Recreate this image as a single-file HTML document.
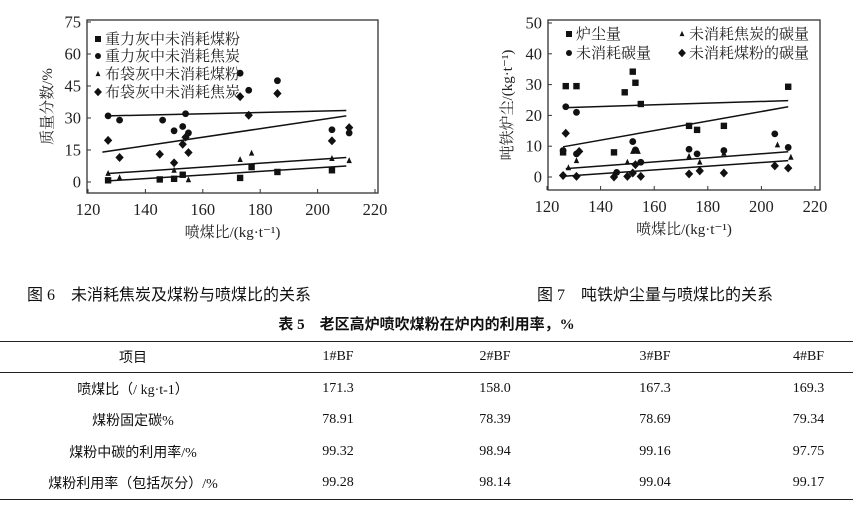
<!DOCTYPE html>
<html><head><meta charset="utf-8"><style>
body{margin:0;width:853px;height:510px;background:#fff;overflow:hidden;position:relative;font-family:"Liberation Serif","Noto Serif CJK SC",serif;color:#111}
svg{position:absolute;left:0;top:0}
.cap{position:absolute;font-size:16px;font-family:"Liberation Serif","Noto Sans CJK SC",sans-serif;white-space:nowrap;line-height:1}
table{position:absolute;left:0;top:341px;width:853px;border-collapse:collapse;table-layout:fixed;font-size:14px;font-family:"Liberation Serif","Noto Sans CJK SC",sans-serif}
td{text-align:center;height:31.5px;padding:0}
tr.h td{height:30px;border-bottom:1.5px solid #222}
td.l{padding-left:34px}
</style></head><body>
<svg width="853" height="340">
<g id="c1"></g>
<g id="c2"></g>
</svg>
<div class="cap" style="left:27px;top:288px">图 6　未消耗焦炭及煤粉与喷煤比的关系</div>
<div class="cap" style="left:537px;top:288px">图 7　吨铁炉尘量与喷煤比的关系</div>
<div class="cap" style="left:0;width:853px;text-align:center;top:318px;font-weight:bold;font-size:15px">表 5　老区高炉喷吹煤粉在炉内的利用率，%</div>
<table style="border-top:1.5px solid #222;border-bottom:1.5px solid #222">
<colgroup><col style="width:266px"><col style="width:144px"><col style="width:170px"><col style="width:150px"><col style="width:123px"></colgroup>
<tr class="h"><td>项目</td><td>1#BF</td><td>2#BF</td><td>3#BF</td><td class="l">4#BF</td></tr>
<tr><td>喷煤比（/ kg·t-1）</td><td>171.3</td><td>158.0</td><td>167.3</td><td class="l">169.3</td></tr>
<tr><td>煤粉固定碳%</td><td>78.91</td><td>78.39</td><td>78.69</td><td class="l">79.34</td></tr>
<tr><td>煤粉中碳的利用率/%</td><td>99.32</td><td>98.94</td><td>99.16</td><td class="l">97.75</td></tr>
<tr><td>煤粉利用率（包括灰分）/%</td><td>99.28</td><td>98.14</td><td>99.04</td><td class="l">99.17</td></tr>
</table>
<script>
// Chart 1 data
const c1SqX=[127,145,150,153,173,177,186,205];
const c1SqY=[0.8,1.2,1.5,3.4,1.9,7,4.7,5.5];
const c1CiX=[127,131,146,150,153,154,155,173,176,186,205,211];
const c1CiY=[31,29,29,24,26,32,23,51,43,47.5,24.5,23];
const c1TrX=[127,131,150,155,173,177,205,211];
const c1TrY=[4,2,5.5,1,10.5,13.5,11,10];
const c1DiX=[127,131,145,150,153,154,155,173,176,186,205,211];
const c1DiY=[19.5,11.5,13,9,17.7,21,13.8,40,31.3,41.5,19.3,25.5];
const c1Lines=[[127,31,210,33.5],[125,14,210,31],[127,4,210,11.5],[127,0.5,210,7.5]];
const c1XTicks=[120,140,160,180,200,220];
const c1YTicks=[0,15,30,45,60,75];
const c1Legend=["重力灰中未消耗煤粉","重力灰中未消耗焦炭","布袋灰中未消耗煤粉","布袋灰中未消耗焦炭"];
// Chart 2 data
const c2SqX=[126,127,131,145,149,152,153,155,173,176,186,210];
const c2SqY=[8,29.5,29.5,8,27.5,34.2,30.6,23.7,16.6,15.3,16.6,29.3];
const c2CiX=[126,127,131,131,146,152,153,155,173,176,186,205,210];
const c2CiY=[8.6,22.8,21,7.5,1.5,11.5,8.8,4.8,9,7.5,8.6,14,9.6];
const c2TrX=[128,131,150,152,154,173,177,186,206,211];
const c2TrY=[3,5.3,4.8,8.3,8.3,6.7,4.8,7.7,10.4,6.4];
const c2DiX=[126,127,131,132,145,150,152,153,155,173,177,186,205,210];
const c2DiY=[0.5,14.2,0.2,8.3,0,0.2,1.3,4,0.2,1,2,1.3,3.6,2.9];
const c2Lines=[[126,22.5,210,24.8],[126,9.8,210,22.8],[127,2.7,210,8.2],[127,0.3,210,5.3]];
const c2XTicks=[120,140,160,180,200,220];
const c2YTicks=[0,10,20,30,40,50];
const c2Legend=["炉尘量","未消耗碳量","未消耗焦炭的碳量","未消耗煤粉的碳量"];

const NS="http://www.w3.org/2000/svg";
function mk(p,t,a){const e=document.createElementNS(NS,t);for(const k in a)e.setAttribute(k,a[k]);p.appendChild(e);return e;}
function marker(g,kind,x,y,s){
  let e;
  if(kind==0)e=mk(g,'rect',{x:x-s,y:y-s,width:2*s,height:2*s,fill:'#111'});
  else if(kind==1)e=mk(g,'circle',{cx:x,cy:y,r:s,fill:'#111'});
  else if(kind==2)e=mk(g,'polygon',{points:`${x},${y-s*1.3} ${x-s},${y+s*0.9} ${x+s},${y+s*0.9}`,fill:'#111'});
  else e=mk(g,'polygon',{points:`${x},${y-s*1.4} ${x+s*1.3},${y} ${x},${y+s*1.4} ${x-s*1.3},${y}`,fill:'#111'});
  return e;
}
function chart(g,cfg){
  const X=v=>cfg.x0+(v-120)/100*(cfg.x1-cfg.x0);
  const Y=v=>cfg.y0-(v/cfg.ymax)*(cfg.y0-cfg.yTop);
  let b=mk(g,'rect',{x:cfg.bl,y:cfg.bt,width:cfg.br-cfg.bl,height:cfg.bb-cfg.bt,fill:'none',stroke:'#333','stroke-width':1.3});
  
  cfg.xt.forEach(v=>{mk(g,'line',{x1:X(v),x2:X(v),y1:cfg.bb,y2:cfg.bb-4,stroke:'#333'});
    let t=mk(g,'text',{x:X(v),y:cfg.bb+22,'text-anchor':'middle','font-size':16.5,fill:'#222'});t.textContent=v;
    });
  cfg.yt.forEach(v=>{mk(g,'line',{x1:cfg.bl,x2:cfg.bl+4,y1:Y(v),y2:Y(v),stroke:'#333'});
    let t=mk(g,'text',{x:cfg.bl-6,y:Y(v)+5.5,'text-anchor':'end','font-size':16.5,fill:'#222'});t.textContent=v;
    });
  cfg.lines.forEach(l=>{let e=mk(g,'line',{x1:X(l[0]),y1:Y(l[1]),x2:X(l[2]),y2:Y(l[3]),stroke:'#111','stroke-width':1.5});
    });
  cfg.series.forEach((s,k)=>{s[0].forEach((xv,i)=>{let e=marker(g,k,X(xv),Y(s[1][i]),k==1?3.4:k==2?2.7:3.2);
    });});
  cfg.leg.forEach((txt,k)=>{const p=cfg.legPos[k];let e=marker(g,k,p[0],p[1]-5,k==2?2.4:3);
    
    let t=mk(g,'text',{x:p[0]+7,y:p[1],'font-size':cfg.lfs,fill:'#222'});t.textContent=txt;
    });
  let xl=mk(g,'text',{x:(cfg.bl+cfg.br)/2,y:cfg.bb+44,'text-anchor':'middle','font-size':15,fill:'#222'});
  xl.textContent='喷煤比/(kg·t⁻¹)';
  let yl=mk(g,'text',{x:0,y:0,'text-anchor':'middle','font-size':15,fill:'#222',transform:`translate(${cfg.yl},${(cfg.bt+cfg.bb)/2}) rotate(-90)`});
  yl.textContent=cfg.ytitle;
}
chart(document.getElementById('c1'),{x0:88,x1:375,y0:182,yTop:22,ymax:75,bl:87,br:378,bt:20,bb:193,
 xt:c1XTicks,yt:c1YTicks,lines:c1Lines,series:[[c1SqX,c1SqY],[c1CiX,c1CiY],[c1TrX,c1TrY],[c1DiX,c1DiY]],
 leg:c1Legend,legPos:[[98,44],[98,61],[98,79],[98,97]],lfs:15,yl:52,ytitle:'质量分数/%'});
chart(document.getElementById('c2'),{x0:547,x1:815,y0:177,yTop:23,ymax:50,bl:548,br:820,bt:20,bb:190,
 xt:c2XTicks,yt:c2YTicks,lines:c2Lines,series:[[c2SqX,c2SqY],[c2CiX,c2CiY],[c2TrX,c2TrY],[c2DiX,c2DiY]],
 leg:c2Legend,legPos:[[569,39],[569,58],[682,39],[682,58]],lfs:15,yl:512,ytitle:'吨铁炉尘/(kg·t⁻¹)'});
</script>
</body></html>
